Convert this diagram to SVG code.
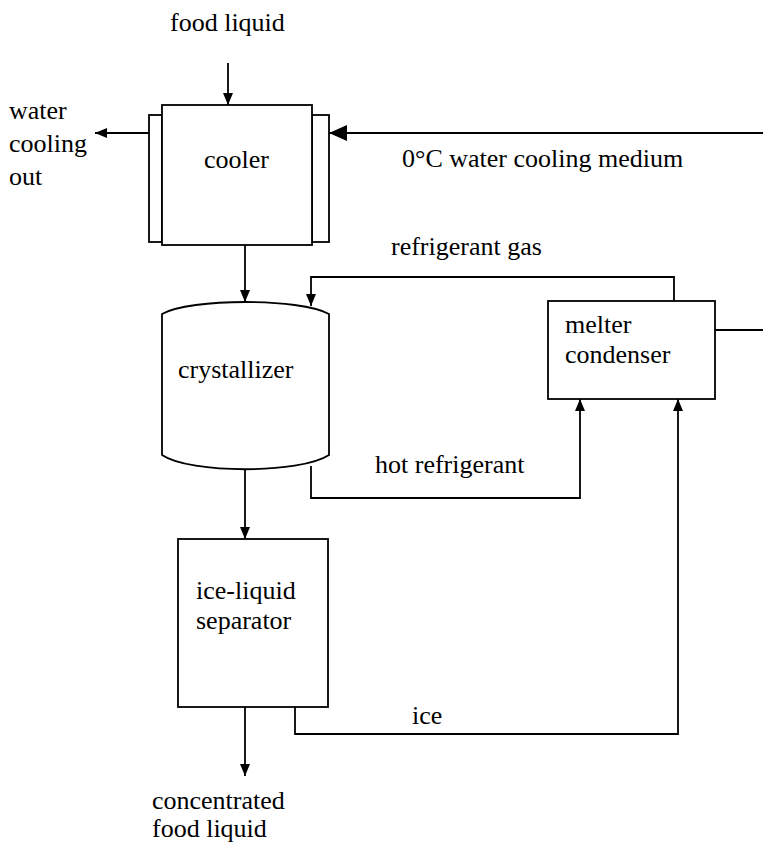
<svg xmlns="http://www.w3.org/2000/svg" width="763" height="843" viewBox="0 0 763 843">
<style>
.s{fill:#fff;stroke:#000;stroke-width:1.8}
.c{fill:none;stroke:#000;stroke-width:1.8}
</style>
<defs>
<marker id="a" viewBox="0 0 12 10" refX="12" refY="5" markerWidth="12" markerHeight="10" markerUnits="userSpaceOnUse" orient="auto"><path d="M0,0 L12,5 L0,10 Z" fill="#000"/></marker>
<marker id="b" viewBox="0 0 18 16" refX="18" refY="8" markerWidth="18" markerHeight="16" markerUnits="userSpaceOnUse" orient="auto"><path d="M0,0 L18,8 L0,16 Z" fill="#000"/></marker>
</defs>
<rect width="763" height="843" fill="#fff"/>
<g id="connectors">
<line class="c" x1="228" y1="63" x2="228" y2="105" marker-end="url(#a)"/>
<line class="c" x1="149" y1="133" x2="95" y2="133" marker-end="url(#a)"/>
<line class="c" x1="763" y1="133" x2="329" y2="133" marker-end="url(#b)"/>
<line class="c" x1="245" y1="245" x2="245" y2="302" marker-end="url(#a)"/>
<polyline class="c" points="674,301 674,277 311,277 311,306" marker-end="url(#a)"/>
<line class="c" x1="715" y1="330" x2="763" y2="330"/>
<polyline class="c" points="311,466 311,498 580,498 580,399" marker-end="url(#a)"/>
<line class="c" x1="245" y1="469" x2="245" y2="539" marker-end="url(#a)"/>
<polyline class="c" points="295,707 295,734 678,734 678,399" marker-end="url(#a)"/>
<line class="c" x1="245" y1="707" x2="245" y2="776" marker-end="url(#a)"/>
</g>
<g font-family="Times New Roman, Liberation Serif, DejaVu Serif, serif" font-size="26" fill="#000">
<g id="cooler">
<rect class="s" x="149" y="115" width="13" height="127"/>
<rect class="s" x="312" y="115" width="17" height="127"/>
<rect class="s" x="162" y="105" width="150" height="140"/>
<text x="204" y="168">cooler</text>
</g>
<g id="crystallizer">
<path class="s" d="M162,314 C190,298 300,298 329,314 L329,455 C300,474 190,474 162,455 Z"/>
<text x="178" y="378">crystallizer</text>
</g>
<g id="melter">
<rect class="s" x="548" y="301" width="167" height="98"/>
<text x="565" y="333">melter</text>
<text x="565" y="363">condenser</text>
</g>
<g id="separator">
<rect class="s" x="178" y="539" width="150" height="168"/>
<text x="196" y="599">ice-liquid</text>
<text x="196" y="629">separator</text>
</g>
<g id="labels">
<text x="170" y="31">food liquid</text>
<text x="9" y="119">water</text>
<text x="9" y="152">cooling</text>
<text x="9" y="185">out</text>
<text x="402" y="167">0°C water cooling medium</text>
<text x="391" y="255">refrigerant gas</text>
<text x="375" y="473">hot refrigerant</text>
<text x="412" y="724">ice</text>
<text x="152" y="809">concentrated</text>
<text x="152" y="837">food liquid</text>
</g>
</g>
</svg>
